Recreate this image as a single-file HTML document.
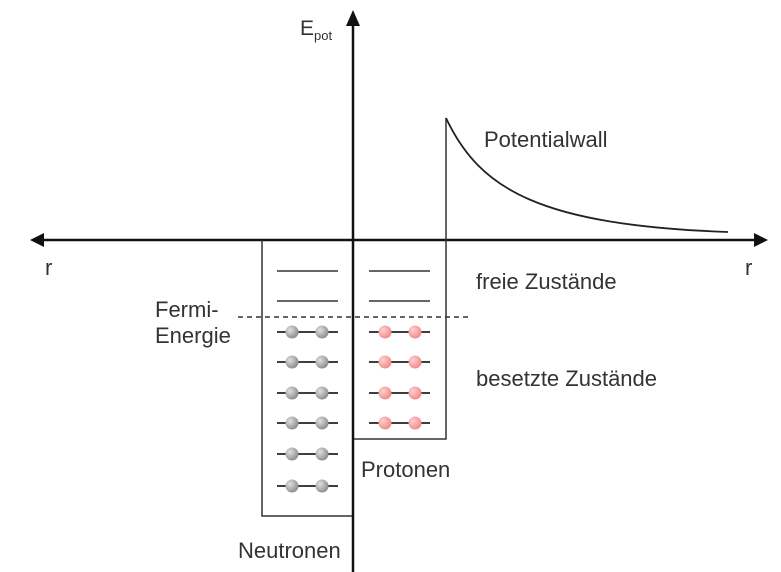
<!DOCTYPE html>
<html><head><meta charset="utf-8"><style>
html,body{margin:0;padding:0;background:#fff;}
svg{display:block;}
text{font-family:"Liberation Sans",Arial,sans-serif;fill:#333;}
</style></head><body>
<svg width="781" height="572" viewBox="0 0 781 572" xmlns="http://www.w3.org/2000/svg">
<defs>
<radialGradient id="g" cx="0.35" cy="0.35" r="0.7"><stop offset="0" stop-color="#e0e0e0"/><stop offset="1" stop-color="#8a8a8a"/></radialGradient>
<radialGradient id="p" cx="0.35" cy="0.35" r="0.7"><stop offset="0" stop-color="#ffd0d0"/><stop offset="1" stop-color="#f08888"/></radialGradient>
</defs>
<line x1="40" y1="240" x2="758" y2="240" stroke="#111" stroke-width="2.5"/>
<polygon points="30,240 44,233 44,247" fill="#111"/>
<polygon points="768,240 754,233 754,247" fill="#111"/>
<line x1="353" y1="20" x2="353" y2="572" stroke="#111" stroke-width="2.5"/>
<polygon points="353,10 346,26 360,26" fill="#111"/>
<line x1="446" y1="118" x2="446" y2="240" stroke="#333" stroke-width="1.5"/>
<path d="M446,118 C480,190 540,225 728,232" fill="none" stroke="#222" stroke-width="1.8"/>
<polyline points="262,240 262,516 352,516" fill="none" stroke="#333" stroke-width="1.5"/>
<polyline points="354,439 446,439 446,240" fill="none" stroke="#333" stroke-width="1.5"/>
<g stroke="#666" stroke-width="2">
<line x1="277" y1="271" x2="338" y2="271"/><line x1="369" y1="271" x2="430" y2="271"/>
<line x1="277" y1="301" x2="338" y2="301"/><line x1="369" y1="301" x2="430" y2="301"/>
</g>
<line x1="238" y1="317" x2="470" y2="317" stroke="#333" stroke-width="1.5" stroke-dasharray="5,4"/>
<g stroke="#222" stroke-width="1.8">
<line x1="277" y1="332" x2="338" y2="332"/><line x1="277" y1="362" x2="338" y2="362"/>
<line x1="277" y1="393" x2="338" y2="393"/><line x1="277" y1="423" x2="338" y2="423"/>
<line x1="277" y1="454" x2="338" y2="454"/><line x1="277" y1="486" x2="338" y2="486"/>
<line x1="369" y1="332" x2="430" y2="332"/><line x1="369" y1="362" x2="430" y2="362"/>
<line x1="369" y1="393" x2="430" y2="393"/><line x1="369" y1="423" x2="430" y2="423"/>
</g>
<g fill="url(#g)">
<circle cx="292" cy="332" r="6.5"/><circle cx="322" cy="332" r="6.5"/>
<circle cx="292" cy="362" r="6.5"/><circle cx="322" cy="362" r="6.5"/>
<circle cx="292" cy="393" r="6.5"/><circle cx="322" cy="393" r="6.5"/>
<circle cx="292" cy="423" r="6.5"/><circle cx="322" cy="423" r="6.5"/>
<circle cx="292" cy="454" r="6.5"/><circle cx="322" cy="454" r="6.5"/>
<circle cx="292" cy="486" r="6.5"/><circle cx="322" cy="486" r="6.5"/>
</g>
<g fill="url(#p)">
<circle cx="385" cy="332" r="6.5"/><circle cx="415" cy="332" r="6.5"/>
<circle cx="385" cy="362" r="6.5"/><circle cx="415" cy="362" r="6.5"/>
<circle cx="385" cy="393" r="6.5"/><circle cx="415" cy="393" r="6.5"/>
<circle cx="385" cy="423" r="6.5"/><circle cx="415" cy="423" r="6.5"/>
</g>
<text x="300" y="35" font-size="21">E</text><text x="314" y="40" font-size="13">pot</text>
<text x="45" y="275" font-size="22">r</text>
<text x="745" y="275" font-size="22">r</text>
<text x="484" y="147" font-size="22">Potentialwall</text>
<text x="476" y="289" font-size="22">freie Zustände</text>
<text x="155" y="317" font-size="22">Fermi-</text>
<text x="155" y="343" font-size="22">Energie</text>
<text x="476" y="386" font-size="22">besetzte Zustände</text>
<text x="361" y="477" font-size="22">Protonen</text>
<text x="238" y="558" font-size="22">Neutronen</text>
</svg>
</body></html>
